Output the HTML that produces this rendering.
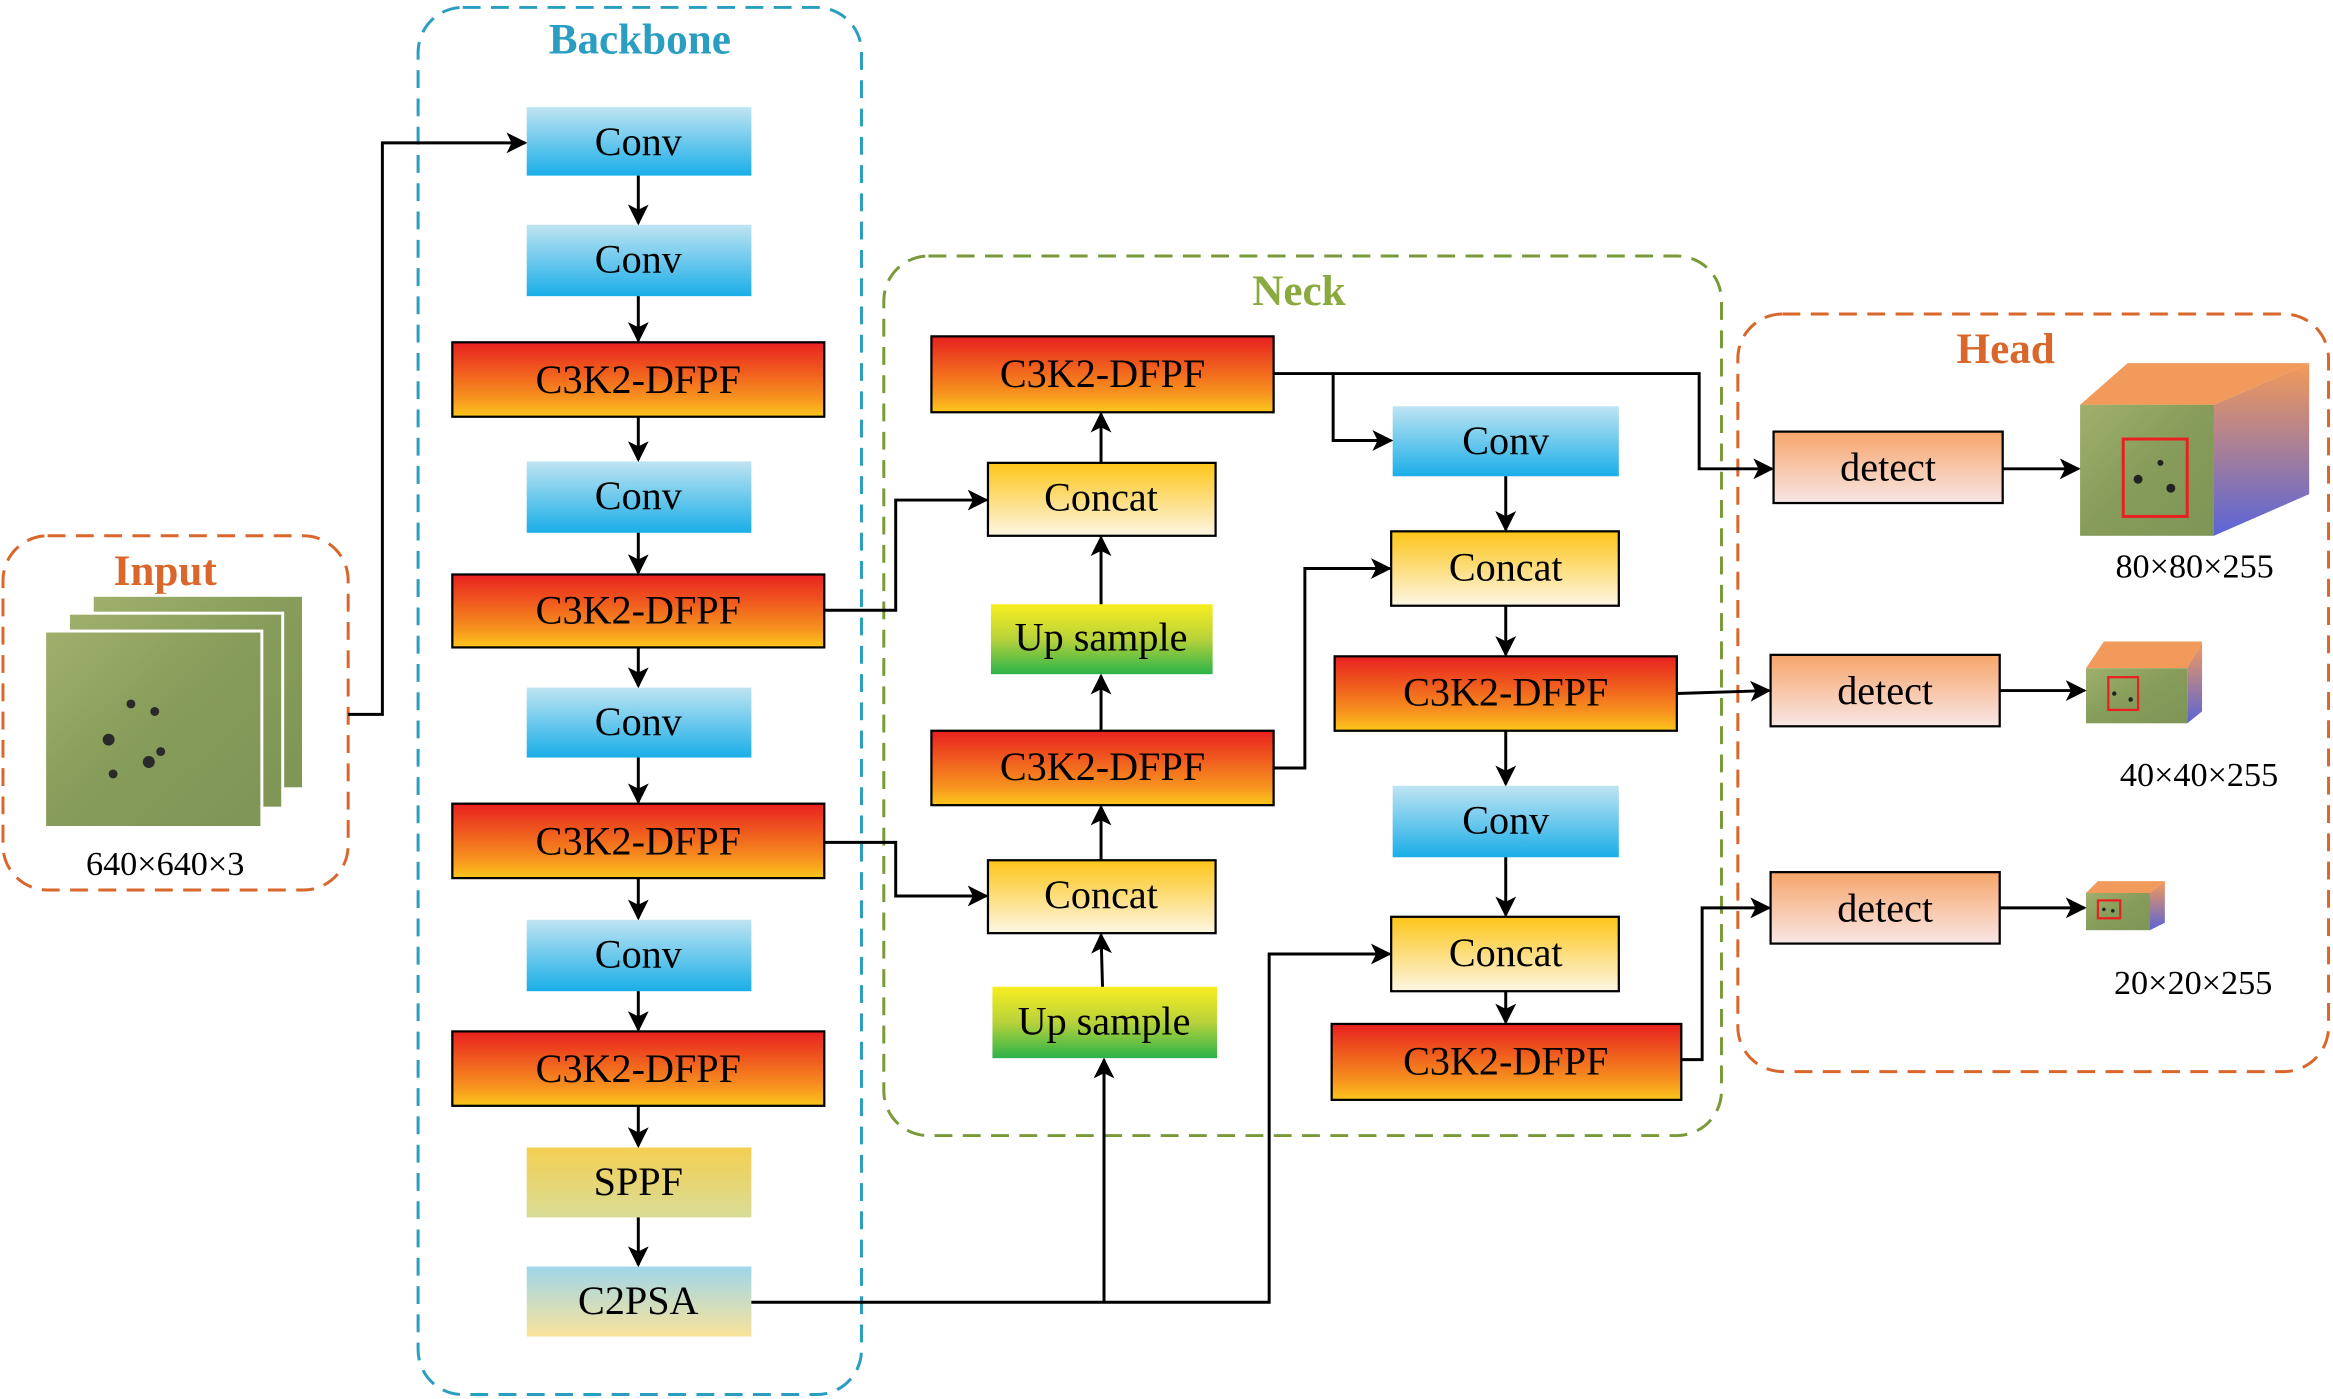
<!DOCTYPE html>
<html><head><meta charset="utf-8"><style>
html,body{margin:0;padding:0;background:#fff}
svg{display:block}
text{font-family:"Liberation Serif",serif;}
</style></head><body>
<svg width="2333" height="1399" viewBox="0 0 1568 940" preserveAspectRatio="none" xmlns="http://www.w3.org/2000/svg">
<defs>
<linearGradient id="conv" x1="0" y1="0" x2="0" y2="1"><stop offset="0" stop-color="#bfe4f2"/><stop offset="1" stop-color="#1aaee8"/></linearGradient>
<linearGradient id="c3" x1="0" y1="0" x2="0" y2="1"><stop offset="0" stop-color="#e8201f"/><stop offset="0.75" stop-color="#f7931e"/><stop offset="1" stop-color="#fcc71c"/></linearGradient>
<linearGradient id="cat" x1="0" y1="0" x2="0" y2="1"><stop offset="0" stop-color="#fdc518"/><stop offset="1" stop-color="#fdf6e4"/></linearGradient>
<linearGradient id="up" x1="0" y1="0" x2="0" y2="1"><stop offset="0" stop-color="#f8ee20"/><stop offset="0.5" stop-color="#b8d23a"/><stop offset="1" stop-color="#2bb34a"/></linearGradient>
<linearGradient id="sppf" x1="0" y1="0" x2="0" y2="1"><stop offset="0" stop-color="#f4cf52"/><stop offset="1" stop-color="#d9dc96"/></linearGradient>
<linearGradient id="c2" x1="0" y1="0" x2="0" y2="1"><stop offset="0" stop-color="#9fd6ea"/><stop offset="1" stop-color="#f9e39a"/></linearGradient>
<linearGradient id="det" x1="0" y1="0" x2="0" y2="1"><stop offset="0" stop-color="#f7a56a"/><stop offset="1" stop-color="#f8e6e6"/></linearGradient>
<linearGradient id="grass" x1="0" y1="0" x2="1" y2="1"><stop offset="0" stop-color="#9fb06c"/><stop offset="0.5" stop-color="#879c5a"/><stop offset="1" stop-color="#7e9556"/></linearGradient>
<linearGradient id="side" x1="0" y1="0" x2="0" y2="1"><stop offset="0" stop-color="#f49a58"/><stop offset="1" stop-color="#5a64d8"/></linearGradient>
<marker id="a" viewBox="0 0 10 10" refX="9" refY="5" markerWidth="7" markerHeight="7" orient="auto"><path d="M0,0 L10,5 L0,10 L2.5,5 z" fill="#000"/></marker>
</defs>

<rect x="2" y="360" width="232" height="238" rx="30" fill="none" stroke="#d9662a" stroke-width="2" stroke-dasharray="12,7"/>
<rect x="281" y="5" width="298" height="932" rx="30" fill="none" stroke="#2a9ec0" stroke-width="2" stroke-dasharray="12,7"/>
<rect x="594" y="172" width="563" height="591" rx="30" fill="none" stroke="#7a9a3a" stroke-width="2" stroke-dasharray="12,7"/>
<rect x="1168" y="211" width="397" height="509" rx="30" fill="none" stroke="#d9662a" stroke-width="2" stroke-dasharray="12,7"/>

<g font-weight="bold" font-size="29" text-anchor="middle">
<text x="111" y="393" fill="#d9662a">Input</text>
<text x="430" y="36" fill="#2a9ec0">Backbone</text>
<text x="873" y="205" fill="#8aaa40">Neck</text>
<text x="1348" y="244" fill="#d9662a">Head</text>
</g>

<rect x="62" y="400" width="142" height="130" fill="url(#grass)" stroke="#fff" stroke-width="2"/>
<rect x="46" y="412" width="144" height="131" fill="url(#grass)" stroke="#fff" stroke-width="2"/>
<rect x="30" y="424" width="146" height="132" fill="url(#grass)" stroke="#fff" stroke-width="2"/>
<g fill="#2a2a2a"><circle cx="73" cy="497" r="4"/><circle cx="88" cy="473" r="3"/><circle cx="104" cy="478" r="3"/><circle cx="100" cy="512" r="4"/><circle cx="108" cy="505" r="3"/><circle cx="76" cy="520" r="3"/></g>
<text x="111" y="588" font-size="23" text-anchor="middle">640×640×3</text>

<g font-size="27" text-anchor="middle">
<rect x="354" y="72" width="151" height="46" fill="url(#conv)"/><text x="429" y="104">Conv</text>
<rect x="354" y="151" width="151" height="48" fill="url(#conv)"/><text x="429" y="183">Conv</text>
<rect x="304" y="230" width="250" height="50" fill="url(#c3)" stroke="#000" stroke-width="1.5"/><text x="429" y="264">C3K2-DFPF</text>
<rect x="354" y="310" width="151" height="48" fill="url(#conv)"/><text x="429" y="342">Conv</text>
<rect x="304" y="386" width="250" height="49" fill="url(#c3)" stroke="#000" stroke-width="1.5"/><text x="429" y="419">C3K2-DFPF</text>
<rect x="354" y="462" width="151" height="47" fill="url(#conv)"/><text x="429" y="494">Conv</text>
<rect x="304" y="540" width="250" height="50" fill="url(#c3)" stroke="#000" stroke-width="1.5"/><text x="429" y="574">C3K2-DFPF</text>
<rect x="354" y="618" width="151" height="48" fill="url(#conv)"/><text x="429" y="650">Conv</text>
<rect x="304" y="693" width="250" height="50" fill="url(#c3)" stroke="#000" stroke-width="1.5"/><text x="429" y="727">C3K2-DFPF</text>
<rect x="354" y="771" width="151" height="47" fill="url(#sppf)"/><text x="429" y="803">SPPF</text>
<rect x="354" y="851" width="151" height="47" fill="url(#c2)"/><text x="429" y="883">C2PSA</text>

<rect x="626" y="226" width="230" height="51" fill="url(#c3)" stroke="#000" stroke-width="1.5"/><text x="741" y="260">C3K2-DFPF</text>
<rect x="664" y="311" width="153" height="49" fill="url(#cat)" stroke="#000" stroke-width="1.5"/><text x="740" y="343">Concat</text>
<rect x="666" y="406" width="149" height="47" fill="url(#up)"/><text x="740" y="437">Up sample</text>
<rect x="626" y="491" width="230" height="50" fill="url(#c3)" stroke="#000" stroke-width="1.5"/><text x="741" y="524">C3K2-DFPF</text>
<rect x="664" y="578" width="153" height="49" fill="url(#cat)" stroke="#000" stroke-width="1.5"/><text x="740" y="610">Concat</text>
<rect x="667" y="663" width="151" height="48" fill="url(#up)"/><text x="742" y="695">Up sample</text>

<rect x="936" y="273" width="152" height="47" fill="url(#conv)"/><text x="1012" y="305">Conv</text>
<rect x="935" y="357" width="153" height="50" fill="url(#cat)" stroke="#000" stroke-width="1.5"/><text x="1012" y="390">Concat</text>
<rect x="897" y="441" width="230" height="50" fill="url(#c3)" stroke="#000" stroke-width="1.5"/><text x="1012" y="474">C3K2-DFPF</text>
<rect x="936" y="528" width="152" height="48" fill="url(#conv)"/><text x="1012" y="560">Conv</text>
<rect x="935" y="616" width="153" height="50" fill="url(#cat)" stroke="#000" stroke-width="1.5"/><text x="1012" y="649">Concat</text>
<rect x="895" y="688" width="235" height="51" fill="url(#c3)" stroke="#000" stroke-width="1.5"/><text x="1012" y="722">C3K2-DFPF</text>

<rect x="1192" y="290" width="154" height="48" fill="url(#det)" stroke="#000" stroke-width="1.5"/><text x="1269" y="323">detect</text>
<rect x="1190" y="440" width="154" height="48" fill="url(#det)" stroke="#000" stroke-width="1.5"/><text x="1267" y="473">detect</text>
<rect x="1190" y="586" width="154" height="48" fill="url(#det)" stroke="#000" stroke-width="1.5"/><text x="1267" y="619">detect</text>
</g>

<polygon points="1398,272 1430,244 1552,244 1488,272" fill="#f29a5c"/>
<polygon points="1488,272 1552,244 1552,332 1488,360" fill="url(#side)"/>
<rect x="1398" y="272" width="90" height="88" fill="url(#grass)"/>
<rect x="1427" y="295" width="43" height="52" fill="none" stroke="#e8201f" stroke-width="2"/>
<g fill="#222"><circle cx="1437" cy="322" r="3"/><circle cx="1459" cy="328" r="3"/><circle cx="1452" cy="311" r="2"/></g>
<text x="1475" y="388" font-size="23" text-anchor="middle">80×80×255</text>

<polygon points="1402,449 1414,431 1480,431 1470,449" fill="#f29a5c"/>
<polygon points="1470,449 1480,431 1480,478 1470,486" fill="url(#side)"/>
<rect x="1402" y="449" width="68" height="37" fill="url(#grass)"/>
<rect x="1417" y="455" width="20" height="22" fill="none" stroke="#e8201f" stroke-width="1.5"/>
<g fill="#222"><circle cx="1421" cy="466" r="1.5"/><circle cx="1432" cy="470" r="1.5"/></g>
<text x="1478" y="528" font-size="23" text-anchor="middle">40×40×255</text>

<polygon points="1402,600 1410,592 1455,592 1445,600" fill="#f29a5c"/>
<polygon points="1445,600 1455,592 1455,620 1445,625" fill="url(#side)"/>
<rect x="1402" y="600" width="43" height="25" fill="url(#grass)"/>
<rect x="1410" y="605" width="15" height="12" fill="none" stroke="#e8201f" stroke-width="1.5"/>
<g fill="#222"><circle cx="1414" cy="611" r="1.2"/><circle cx="1420" cy="612" r="1.2"/></g>
<text x="1474" y="668" font-size="23" text-anchor="middle">20×20×255</text>

<g fill="none" stroke="#000" stroke-width="2" marker-end="url(#a)">
<polyline points="234,480 257,480 257,96 353,96"/>
<line x1="429" y1="118" x2="429" y2="150"/>
<line x1="429" y1="199" x2="429" y2="229"/>
<line x1="429" y1="280" x2="429" y2="309"/>
<line x1="429" y1="358" x2="429" y2="385"/>
<line x1="429" y1="435" x2="429" y2="461"/>
<line x1="429" y1="509" x2="429" y2="539"/>
<line x1="429" y1="590" x2="429" y2="617"/>
<line x1="429" y1="666" x2="429" y2="692"/>
<line x1="429" y1="743" x2="429" y2="770"/>
<line x1="429" y1="818" x2="429" y2="850"/>
<polyline points="554,410 602,410 602,336 663,336"/>
<polyline points="554,566 602,566 602,602 663,602"/>
<polyline points="505,875 853,875 853,641 934,641"/>
<polyline points="742,875 742,712"/>
<line x1="741" y1="663" x2="740" y2="628"/>
<line x1="740" y1="578" x2="740" y2="542"/>
<line x1="740" y1="491" x2="740" y2="454"/>
<line x1="740" y1="406" x2="740" y2="361"/>
<line x1="740" y1="311" x2="740" y2="278"/>
<polyline points="856,251 1142,251 1142,315 1191,315"/>
<polyline points="896,251 896,296 935,296"/>
<line x1="1012" y1="320" x2="1012" y2="356"/>
<line x1="1012" y1="407" x2="1012" y2="440"/>
<line x1="1012" y1="491" x2="1012" y2="527"/>
<line x1="1012" y1="576" x2="1012" y2="615"/>
<line x1="1012" y1="666" x2="1012" y2="687"/>
<polyline points="856,516 877,516 877,382 934,382"/>
<line x1="1127" y1="466" x2="1189" y2="464"/>
<polyline points="1130,712 1144,712 1144,610 1189,610"/>
<line x1="1346" y1="315" x2="1397" y2="315"/>
<line x1="1344" y1="464" x2="1401" y2="464"/>
<line x1="1344" y1="610" x2="1401" y2="610"/>
</g>
</svg>
</body></html>
